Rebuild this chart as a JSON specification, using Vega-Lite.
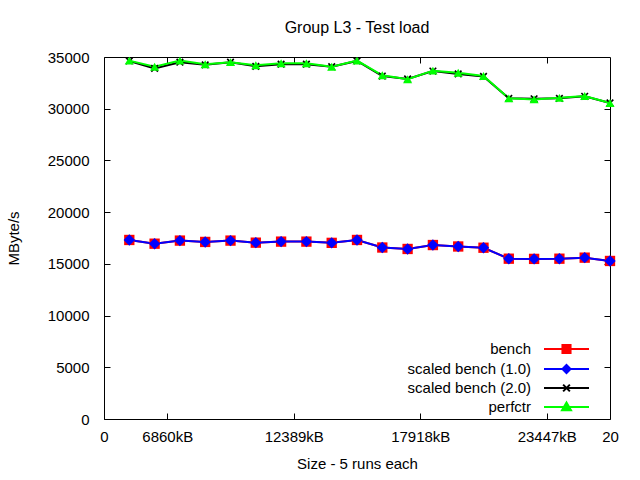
{
  "$schema": "https://vega.github.io/schema/vega-lite/v6.json",
  "width": 506,
  "height": 362,
  "autosize": "none",
  "padding": {"left": 104, "top": 57, "right": 30, "bottom": 61},
  "background": "white",
  "config": {
    "view": {"stroke": "black", "strokeWidth": 1},
    "font": "Liberation Sans",
    "axis": {"labelFont": "Liberation Sans", "titleFont": "Liberation Sans", "labelColor": "black", "titleColor": "black", "tickColor": "black", "titleFontWeight": "normal", "grid": false, "domain": false}
  },
  "title": {"text": "Group L3 - Test load", "fontSize": 16, "fontWeight": "normal", "font": "Liberation Sans", "color": "black", "offset": 14},
  "data": {"values": [
    {"run": 1, "series": "bench", "bw": 17310},
    {"run": 2, "series": "bench", "bw": 16950},
    {"run": 3, "series": "bench", "bw": 17250},
    {"run": 4, "series": "bench", "bw": 17120},
    {"run": 5, "series": "bench", "bw": 17250},
    {"run": 6, "series": "bench", "bw": 17050},
    {"run": 7, "series": "bench", "bw": 17150},
    {"run": 8, "series": "bench", "bw": 17150},
    {"run": 9, "series": "bench", "bw": 17030},
    {"run": 10, "series": "bench", "bw": 17310},
    {"run": 11, "series": "bench", "bw": 16580},
    {"run": 12, "series": "bench", "bw": 16440},
    {"run": 13, "series": "bench", "bw": 16820},
    {"run": 14, "series": "bench", "bw": 16680},
    {"run": 15, "series": "bench", "bw": 16560},
    {"run": 16, "series": "bench", "bw": 15500},
    {"run": 17, "series": "bench", "bw": 15480},
    {"run": 18, "series": "bench", "bw": 15500},
    {"run": 19, "series": "bench", "bw": 15600},
    {"run": 20, "series": "bench", "bw": 15280},
    {"run": 1, "series": "scaled bench (1.0)", "bw": 17310},
    {"run": 2, "series": "scaled bench (1.0)", "bw": 16950},
    {"run": 3, "series": "scaled bench (1.0)", "bw": 17250},
    {"run": 4, "series": "scaled bench (1.0)", "bw": 17120},
    {"run": 5, "series": "scaled bench (1.0)", "bw": 17250},
    {"run": 6, "series": "scaled bench (1.0)", "bw": 17050},
    {"run": 7, "series": "scaled bench (1.0)", "bw": 17150},
    {"run": 8, "series": "scaled bench (1.0)", "bw": 17150},
    {"run": 9, "series": "scaled bench (1.0)", "bw": 17030},
    {"run": 10, "series": "scaled bench (1.0)", "bw": 17310},
    {"run": 11, "series": "scaled bench (1.0)", "bw": 16580},
    {"run": 12, "series": "scaled bench (1.0)", "bw": 16440},
    {"run": 13, "series": "scaled bench (1.0)", "bw": 16820},
    {"run": 14, "series": "scaled bench (1.0)", "bw": 16680},
    {"run": 15, "series": "scaled bench (1.0)", "bw": 16560},
    {"run": 16, "series": "scaled bench (1.0)", "bw": 15500},
    {"run": 17, "series": "scaled bench (1.0)", "bw": 15480},
    {"run": 18, "series": "scaled bench (1.0)", "bw": 15500},
    {"run": 19, "series": "scaled bench (1.0)", "bw": 15600},
    {"run": 20, "series": "scaled bench (1.0)", "bw": 15280},
    {"run": 1, "series": "scaled bench (2.0)", "bw": 34620},
    {"run": 2, "series": "scaled bench (2.0)", "bw": 33900},
    {"run": 3, "series": "scaled bench (2.0)", "bw": 34500},
    {"run": 4, "series": "scaled bench (2.0)", "bw": 34240},
    {"run": 5, "series": "scaled bench (2.0)", "bw": 34500},
    {"run": 6, "series": "scaled bench (2.0)", "bw": 34100},
    {"run": 7, "series": "scaled bench (2.0)", "bw": 34300},
    {"run": 8, "series": "scaled bench (2.0)", "bw": 34300},
    {"run": 9, "series": "scaled bench (2.0)", "bw": 34060},
    {"run": 10, "series": "scaled bench (2.0)", "bw": 34620},
    {"run": 11, "series": "scaled bench (2.0)", "bw": 33160},
    {"run": 12, "series": "scaled bench (2.0)", "bw": 32880},
    {"run": 13, "series": "scaled bench (2.0)", "bw": 33640},
    {"run": 14, "series": "scaled bench (2.0)", "bw": 33360},
    {"run": 15, "series": "scaled bench (2.0)", "bw": 33120},
    {"run": 16, "series": "scaled bench (2.0)", "bw": 31000},
    {"run": 17, "series": "scaled bench (2.0)", "bw": 30960},
    {"run": 18, "series": "scaled bench (2.0)", "bw": 31000},
    {"run": 19, "series": "scaled bench (2.0)", "bw": 31200},
    {"run": 20, "series": "scaled bench (2.0)", "bw": 30560},
    {"run": 1, "series": "perfctr", "bw": 34650},
    {"run": 2, "series": "perfctr", "bw": 34050},
    {"run": 3, "series": "perfctr", "bw": 34650},
    {"run": 4, "series": "perfctr", "bw": 34300},
    {"run": 5, "series": "perfctr", "bw": 34500},
    {"run": 6, "series": "perfctr", "bw": 34200},
    {"run": 7, "series": "perfctr", "bw": 34400},
    {"run": 8, "series": "perfctr", "bw": 34400},
    {"run": 9, "series": "perfctr", "bw": 34050},
    {"run": 10, "series": "perfctr", "bw": 34650},
    {"run": 11, "series": "perfctr", "bw": 33230},
    {"run": 12, "series": "perfctr", "bw": 32850},
    {"run": 13, "series": "perfctr", "bw": 33680},
    {"run": 14, "series": "perfctr", "bw": 33480},
    {"run": 15, "series": "perfctr", "bw": 33160},
    {"run": 16, "series": "perfctr", "bw": 31000},
    {"run": 17, "series": "perfctr", "bw": 30900},
    {"run": 18, "series": "perfctr", "bw": 31050},
    {"run": 19, "series": "perfctr", "bw": 31230},
    {"run": 20, "series": "perfctr", "bw": 30550}
  ]},
  "resolve": {"axis": {"x": "independent", "y": "independent"}},
  "layer": [
    {
      "mark": {"type": "line", "strokeWidth": 2},
      "encoding": {
        "x": {"field": "run", "type": "quantitative", "scale": {"domain": [0, 20], "nice": false, "zero": false},
          "axis": {"orient": "bottom", "values": [0, 2.5, 7.5, 12.5, 17.5, 20], "labelExpr": "datum.value == 2.5 ? '6860kB' : datum.value == 7.5 ? '12389kB' : datum.value == 12.5 ? '17918kB' : datum.value == 17.5 ? '23447kB' : datum.value == 0 ? '0' : '20'", "tickSize": -6, "labelPadding": 16, "labelFontSize": 15, "labelFlush": false, "title": "Size - 5 runs each", "titleFontSize": 15, "titlePadding": 12}},
        "y": {"field": "bw", "type": "quantitative", "scale": {"domain": [0, 35000], "nice": false},
          "axis": {"orient": "left", "values": [0, 5000, 10000, 15000, 20000, 25000, 30000, 35000], "format": "d", "tickSize": -6, "labelPadding": 21, "labelFontSize": 15, "labelFlush": false, "title": "MByte/s", "titleFontSize": 15, "titlePadding": 26}},
        "color": {"field": "series", "type": "nominal",
          "scale": {"domain": ["bench", "scaled bench (1.0)", "scaled bench (2.0)", "perfctr"], "range": ["#ff0000", "#0000ff", "#000000", "#00ff00"]},
          "legend": {
            "orient": "none", "legendX": 440, "legendY": 284, "title": null, "padding": 0,
            "rowPadding": 2, "symbolSize": 2025, "symbolStrokeWidth": 2,
            "labelAlign": "right", "labelBaseline": "middle", "labelFontSize": 15, "labelFont": "Liberation Sans", "labelColor": "black", "labelLimit": 300,
            "encode": {
              "labels": {"update": {"x": {"value": -13}, "y": {"value": 8}}},
              "symbols": {"update": {
                "x": {"value": 22.5},
                "y": {"value": 8},
                "shape": {"signal": "datum.value === 'bench' ? 'M-1,0L1,0M-0.18,-0.18L0.18,-0.18L0.18,0.18L-0.18,0.18Z' : datum.value === 'scaled bench (1.0)' ? 'M-1,0L1,0M0,-0.18L0.18,0L0,0.18L-0.18,0Z' : datum.value === 'scaled bench (2.0)' ? 'M-1,0L1,0M-0.15,-0.15L0.15,0.15M-0.15,0.15L0.15,-0.15' : 'M-1,0L1,0M0,-0.2L0.2,0.14L-0.2,0.14Z'"},
                "stroke": {"scale": "color", "field": "value"},
                "fill": {"scale": "color", "field": "value"},
                "strokeWidth": {"value": 2},
                "opacity": {"value": 1},
                "size": {"value": 2025}
              }}
            }
          }}
      }
    },
    {
      "mark": {"type": "point", "filled": true, "opacity": 1},
      "encoding": {
        "x": {"field": "run", "type": "quantitative",
          "axis": {"orient": "top", "values": [2.5, 7.5, 12.5, 17.5], "labels": false, "tickSize": -6, "title": null}},
        "y": {"field": "bw", "type": "quantitative",
          "axis": {"orient": "right", "values": [5000, 10000, 15000, 20000, 25000, 30000], "labels": false, "tickSize": -6, "title": null}},
        "color": {"field": "series", "type": "nominal"},
        "shape": {"field": "series", "type": "nominal", "legend": null,
          "scale": {"domain": ["perfctr", "bench", "scaled bench (1.0)", "scaled bench (2.0)"], "range": ["triangle-up", "square", "diamond", "M-1,-0.7L-0.7,-1L0,-0.3L0.7,-1L1,-0.7L0.3,0L1,0.7L0.7,1L0,0.3L-0.7,1L-1,0.7L-0.3,0Z"]}},
        "size": {"field": "series", "type": "nominal", "legend": null,
          "scale": {"domain": ["scaled bench (2.0)", "perfctr", "bench", "scaled bench (1.0)"], "range": [60, 130, 81, 55]}}
      }
    }
  ]
}
